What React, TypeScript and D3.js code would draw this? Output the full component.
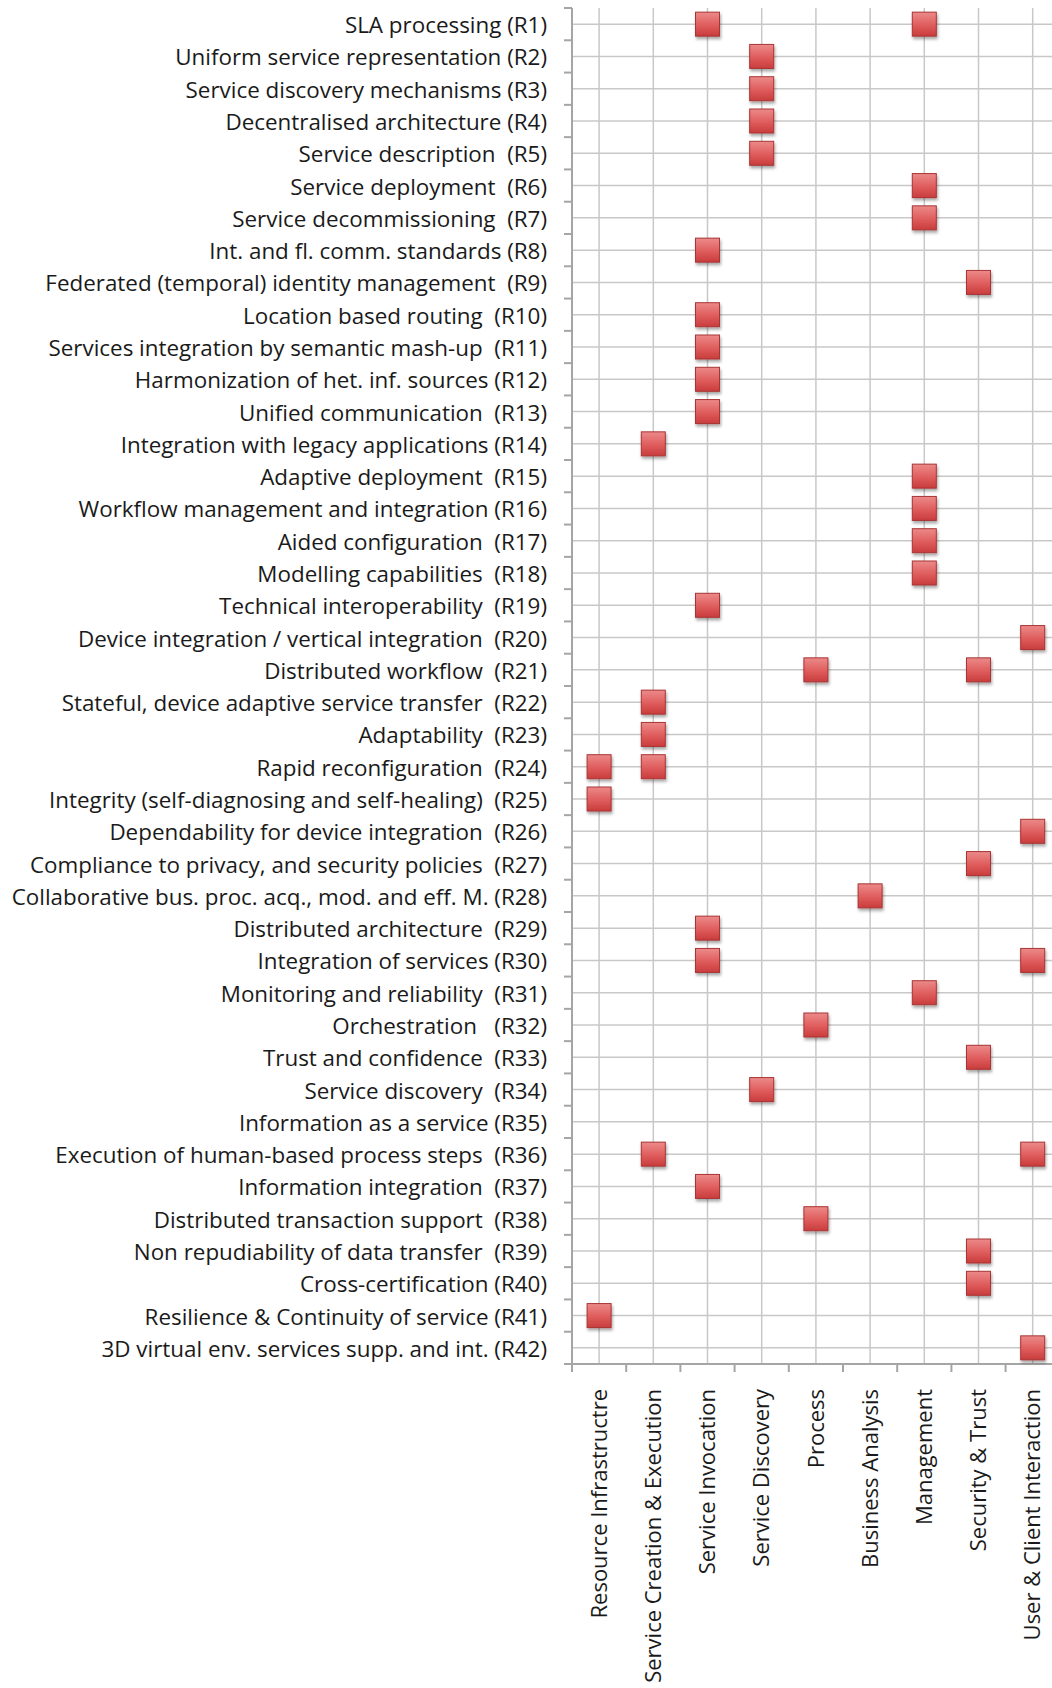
import * as d3 from 'd3'

const requirements = [
  'SLA processing (R1)',
  'Uniform service representation (R2)',
  'Service discovery mechanisms (R3)',
  'Decentralised architecture (R4)',
  'Service description  (R5)',
  'Service deployment  (R6)',
  'Service decommissioning  (R7)',
  'Int. and fl. comm. standards (R8)',
  'Federated (temporal) identity management  (R9)',
  'Location based routing  (R10)',
  'Services integration by semantic mash-up  (R11)',
  'Harmonization of het. inf. sources (R12)',
  'Unified communication  (R13)',
  'Integration with legacy applications (R14)',
  'Adaptive deployment  (R15)',
  'Workflow management and integration (R16)',
  'Aided configuration  (R17)',
  'Modelling capabilities  (R18)',
  'Technical interoperability  (R19)',
  'Device integration / vertical integration  (R20)',
  'Distributed workflow  (R21)',
  'Stateful, device adaptive service transfer  (R22)',
  'Adaptability  (R23)',
  'Rapid reconfiguration  (R24)',
  'Integrity (self-diagnosing and self-healing)  (R25)',
  'Dependability for device integration  (R26)',
  'Compliance to privacy, and security policies  (R27)',
  'Collaborative bus. proc. acq., mod. and eff. M. (R28)',
  'Distributed architecture  (R29)',
  'Integration of services (R30)',
  'Monitoring and reliability  (R31)',
  'Orchestration   (R32)',
  'Trust and confidence  (R33)',
  'Service discovery  (R34)',
  'Information as a service (R35)',
  'Execution of human-based process steps  (R36)',
  'Information integration  (R37)',
  'Distributed transaction support  (R38)',
  'Non repudiability of data transfer  (R39)',
  'Cross-certification (R40)',
  'Resilience & Continuity of service (R41)',
  '3D virtual env. services supp. and int. (R42)',
]

const categories = [
  'Resource Infrastructre',
  'Service Creation & Execution',
  'Service Invocation',
  'Service Discovery',
  'Process',
  'Business Analysis',
  'Management',
  'Security & Trust',
  'User & Client Interaction',
]

// requirement number -> category name
const links: [number, string][] = [
  [1, 'Service Invocation'],
  [1, 'Management'],
  [2, 'Service Discovery'],
  [3, 'Service Discovery'],
  [4, 'Service Discovery'],
  [5, 'Service Discovery'],
  [6, 'Management'],
  [7, 'Management'],
  [8, 'Service Invocation'],
  [9, 'Security & Trust'],
  [10, 'Service Invocation'],
  [11, 'Service Invocation'],
  [12, 'Service Invocation'],
  [13, 'Service Invocation'],
  [14, 'Service Creation & Execution'],
  [15, 'Management'],
  [16, 'Management'],
  [17, 'Management'],
  [18, 'Management'],
  [19, 'Service Invocation'],
  [20, 'User & Client Interaction'],
  [21, 'Process'],
  [21, 'Security & Trust'],
  [22, 'Service Creation & Execution'],
  [23, 'Service Creation & Execution'],
  [24, 'Resource Infrastructre'],
  [24, 'Service Creation & Execution'],
  [25, 'Resource Infrastructre'],
  [26, 'User & Client Interaction'],
  [27, 'Security & Trust'],
  [28, 'Business Analysis'],
  [29, 'Service Invocation'],
  [30, 'Service Invocation'],
  [30, 'User & Client Interaction'],
  [31, 'Management'],
  [32, 'Process'],
  [33, 'Security & Trust'],
  [34, 'Service Discovery'],
  [36, 'Service Creation & Execution'],
  [36, 'User & Client Interaction'],
  [37, 'Service Invocation'],
  [38, 'Process'],
  [39, 'Security & Trust'],
  [40, 'Security & Trust'],
  [41, 'Resource Infrastructre'],
  [42, 'User & Client Interaction'],
]

const width = 1052
const height = 1688
const left = 572
const top = 8
const bottom = 1364
const step = 54.2
const fontFamily = '"Open Sans", Lato, sans-serif'

export default function App() {
  const x = d3
    .scaleBand<string>()
    .domain(categories)
    .range([left, left + step * categories.length])
    .padding(0)
  const y = d3.scaleBand<string>().domain(requirements).range([top, bottom]).padding(0)

  const half = y.bandwidth() / 2
  const xBoundaries = categories.map((c) => x(c)!)
  const yBoundaries = [...requirements.map((r) => y(r)!), bottom]
  const size = 24

  return (
    <svg
      width={width}
      height={height}
      style={{ position: 'absolute', left: 0, top: 0, display: 'block', background: '#fff' }}
    >
      <defs>
        <linearGradient id="marker-fill" x1="0" y1="0" x2="0" y2="1">
          <stop offset="0%" stopColor="#ec8a8a" />
          <stop offset="55%" stopColor="#df5c5c" />
          <stop offset="100%" stopColor="#c93c3c" />
        </linearGradient>
        <filter id="marker-shadow" x="-40%" y="-40%" width="180%" height="180%">
          <feDropShadow dx="1" dy="2.5" stdDeviation="1.8" floodColor="#000" floodOpacity="0.35" />
        </filter>
      </defs>

      {/* horizontal gridlines at row centres */}
      {requirements.map((r) => (
        <line
          key={`h-${r}`}
          x1={left}
          x2={width + 10}
          y1={y(r)! + half}
          y2={y(r)! + half}
          stroke="#c8c8c8"
          strokeWidth={1.5}
        />
      ))}
      {/* vertical gridlines at column centres */}
      {categories.map((c) => (
        <line
          key={`v-${c}`}
          x1={x(c)! + x.bandwidth() / 2}
          x2={x(c)! + x.bandwidth() / 2}
          y1={top}
          y2={bottom}
          stroke="#c8c8c8"
          strokeWidth={1.5}
        />
      ))}

      {/* axes */}
      <line x1={left} x2={left} y1={top} y2={bottom} stroke="#a5a5a5" strokeWidth={2} />
      <line x1={left} x2={width + 10} y1={bottom} y2={bottom} stroke="#a5a5a5" strokeWidth={2} />
      {yBoundaries.map((v, i) => (
        <line key={`yt-${i}`} x1={left - 8} x2={left} y1={v} y2={v} stroke="#a5a5a5" strokeWidth={2} />
      ))}
      {xBoundaries.map((v, i) => (
        <line key={`xt-${i}`} x1={v} x2={v} y1={bottom} y2={bottom + 8} stroke="#a5a5a5" strokeWidth={2} />
      ))}

      {/* requirement labels */}
      {requirements.map((r) => (
        <text
          key={`l-${r}`}
          x={left - 25}
          y={y(r)! + half}
          dy="0.4em"
          textAnchor="end"
          fontFamily={fontFamily}
          fontSize={22.4}
          fill="#1a1a1a"
          style={{ whiteSpace: 'pre' }}
        >
          {r}
        </text>
      ))}

      {/* category labels */}
      {categories.map((c) => (
        <text
          key={`c-${c}`}
          transform={`translate(${x(c)! + x.bandwidth() / 2}, ${bottom + 25}) rotate(-90)`}
          dy="0.35em"
          textAnchor="end"
          fontFamily={fontFamily}
          fontSize={22}
          fill="#1a1a1a"
        >
          {c}
        </text>
      ))}

      {/* markers */}
      {links.map(([n, c], i) => {
        const cx = x(c)! + x.bandwidth() / 2
        const cy = y(requirements[n - 1])! + half
        return (
          <rect
            key={`m-${i}`}
            x={cx - size / 2}
            y={cy - size / 2}
            width={size}
            height={size}
            fill="url(#marker-fill)"
            stroke="#a83434"
            strokeWidth={1}
            filter="url(#marker-shadow)"
          />
        )
      })}
    </svg>
  )
}
